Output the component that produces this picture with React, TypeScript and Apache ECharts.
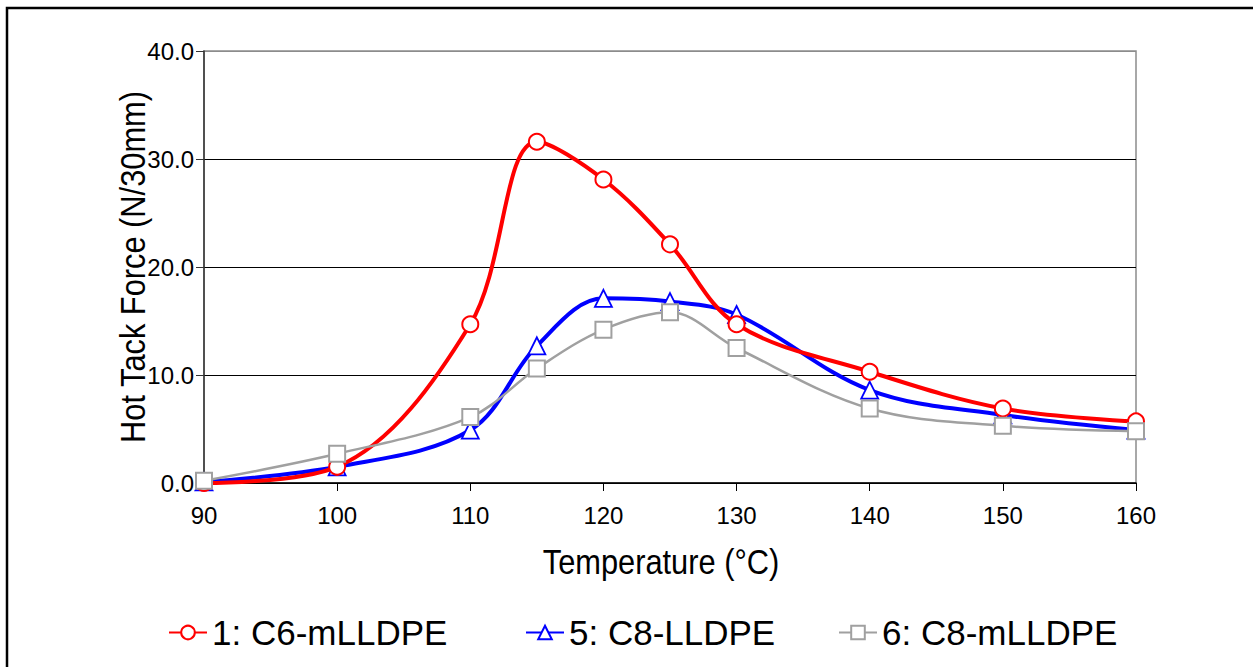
import React, { useEffect, useRef } from "react";
import * as echarts from "echarts";

const temps = [90, 100, 110, 115, 120, 125, 130, 140, 150, 160];
const c6mLLDPE = [0.0, 1.5, 14.7, 31.6, 28.1, 22.1, 14.7, 10.3, 6.9, 5.7];
const c8LLDPE = [0.1, 1.5, 4.9, 12.7, 17.1, 16.8, 15.6, 8.6, 6.3, 4.9];
const c8mLLDPE = [0.2, 2.7, 6.1, 10.6, 14.2, 15.8, 12.5, 6.9, 5.3, 4.8];
const seriesNames = ["1: C6-mLLDPE", "5: C8-LLDPE", "6: C8-mLLDPE"];
const xTitle = "Temperature (°C)";
const yTitle = "Hot Tack Force (N/30mm)";

const pairs = (ys: number[]) => temps.map((t, i) => [t, ys[i]]);

export default function App() {
  const ref = useRef<HTMLDivElement>(null);
  useEffect(() => {
    if (!ref.current) return;
    const chart = echarts.init(ref.current, null, { renderer: "svg" });
    const font = "Liberation Sans, Arial, sans-serif";
    const legendText = { fontFamily: font, fontSize: 35, color: "#000" };
    chart.setOption({
      animation: false,
      backgroundColor: "#fff",
      grid: {
        left: 204,
        right: 117,
        top: 51,
        bottom: 184,
        show: true,
        borderColor: "#8c8c8c",
        borderWidth: 1.5,
        backgroundColor: "transparent",
      },
      xAxis: {
        type: "value",
        min: 90,
        max: 160,
        interval: 10,
        axisLine: { show: true, onZero: false, lineStyle: { color: "#000", width: 1.5 } },
        axisTick: { show: true, inside: false, length: 8, lineStyle: { color: "#000" } },
        axisLabel: { fontFamily: font, fontSize: 24, color: "#000", margin: 20 },
        splitLine: { show: false },
      },
      yAxis: {
        type: "value",
        min: 0,
        max: 40,
        interval: 10,
        axisLine: { show: true, lineStyle: { color: "#333", width: 1.5 } },
        axisTick: { show: true, inside: false, length: 8, lineStyle: { color: "#333" } },
        axisLabel: {
          fontFamily: font,
          fontSize: 24,
          color: "#000",
          margin: 10,
          formatter: (v: number) => v.toFixed(1),
        },
        splitLine: {
          show: true,
          lineStyle: { color: ["#000", "#000", "#000", "#000", "#8c8c8c"], width: 1.2 },
        },
      },
      legend: [0, 1, 2].map((i) => ({
        data: [seriesNames[i]],
        left: [163, 520, 833][i],
        top: 610,
        itemWidth: 38,
        itemHeight: 17,
        itemGap: 0,
        textStyle: { ...legendText, padding: [0, 0, 0, 0] },
      })),
      graphic: [
        {
          type: "rect",
          shape: { x: 7, y: 8, width: 1260, height: 700 },
          style: { fill: "none", stroke: "#000", lineWidth: 2.5 },
          silent: true,
        },
        {
          type: "text",
          x: 133,
          y: 267,
          rotation: Math.PI / 2,
          scaleX: 0.88,
          style: {
            text: yTitle,
            fontFamily: font,
            fontSize: 35,
            fill: "#000",
            align: "center",
            verticalAlign: "middle",
          },
        },
        {
          type: "text",
          x: 661,
          y: 562,
          scaleX: 0.88,
          style: {
            text: xTitle,
            fontFamily: font,
            fontSize: 35,
            fill: "#000",
            align: "center",
            verticalAlign: "middle",
          },
        },
      ],
      series: [
        {
          name: seriesNames[0],
          type: "line",
          data: pairs(c6mLLDPE),
          smooth: 0.35,
          symbol: "circle",
          symbolSize: 16,
          lineStyle: { color: "#ff0000", width: 4 },
          itemStyle: { color: "#fff", borderColor: "#ff0000", borderWidth: 2 },
          z: 4,
        },
        {
          name: seriesNames[1],
          type: "line",
          data: pairs(c8LLDPE),
          smooth: 0.35,
          symbol: "triangle",
          symbolSize: 17,
          lineStyle: { color: "#0000ff", width: 4 },
          itemStyle: { color: "#fff", borderColor: "#0000ff", borderWidth: 1.8 },
          z: 3,
        },
        {
          name: seriesNames[2],
          type: "line",
          data: pairs(c8mLLDPE),
          smooth: 0.35,
          symbol: "rect",
          symbolSize: 16,
          lineStyle: { color: "#a0a0a0", width: 2.5 },
          itemStyle: { color: "#fff", borderColor: "#a0a0a0", borderWidth: 2 },
          z: 5,
        },
      ],
    });
    return () => chart.dispose();
  }, []);
  return (
    <div
      ref={ref}
      style={{ position: "absolute", left: 0, top: 0, width: 1253, height: 667 }}
    />
  );
}
